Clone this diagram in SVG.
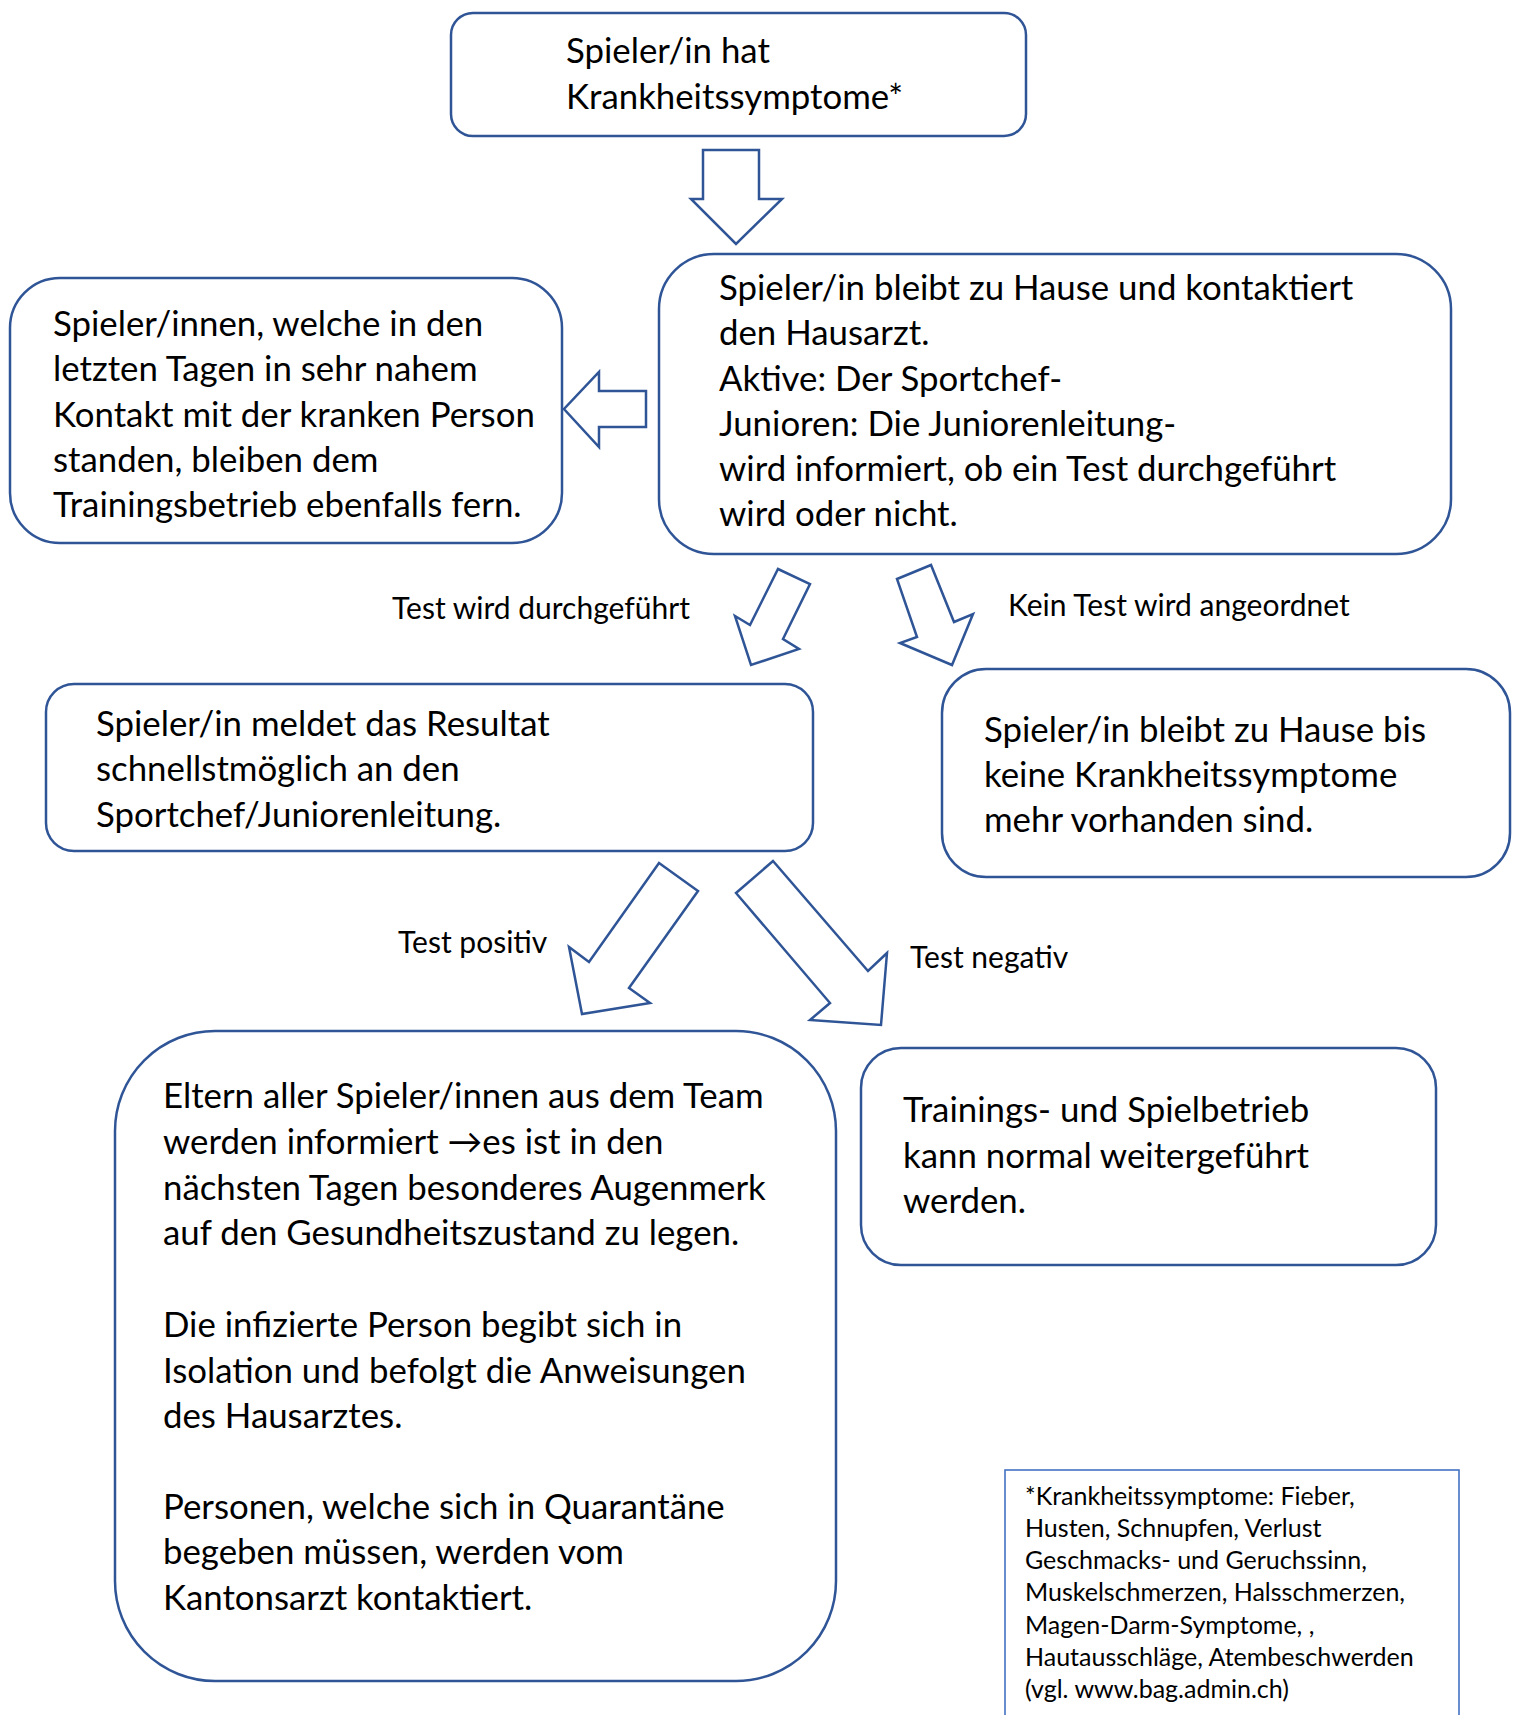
<svg xmlns="http://www.w3.org/2000/svg" width="1514" height="1715" viewBox="0 0 1514 1715">
<style>
.box{fill:#fff;stroke:#2F5597;stroke-width:2.5}
.fnbox{fill:#fff;stroke:#4472C4;stroke-width:1.6}
.arr{fill:#fff;stroke:#2F5597;stroke-width:2.5;stroke-linejoin:miter}
text{font-family:Lato,"Liberation Sans",sans-serif;fill:#000}
.t{font-size:34.8px}
.lbl{font-size:30px}
.fn{font-size:25px}
</style>
<rect width="1514" height="1715" fill="#fff"/>
<g id="connectors">
<polygon class="arr" points="703,150 759,150 759,199 782,199 736,244 691,199 703,199"/>
<polygon class="arr" points="646,391 646,427 599,427 599,447 564,409 599,372 599,391"/>
<polygon class="arr" points="778,569 810,584 783,639 799,649 751,665 735,616 750,625"/>
<polygon class="arr" points="897,579 931,565 954,622 973,614 952,665 900,643 917,637"/>
<polygon class="arr" points="659,863 698,891 629,988 650,1003 582,1014 569,947 589,962"/>
<polygon class="arr" points="736,893 773,861 868,971 887,953 881,1025 810,1020 830,1003"/>
<text class="lbl" x="392" y="619">Test wird durchgeführt</text>
<text class="lbl" x="1008" y="616">Kein Test wird angeordnet</text>
<text class="lbl" x="398" y="953">Test positiv</text>
<text class="lbl" x="910" y="968">Test negativ</text>
</g>
<g id="n1">
<rect class="box" x="451" y="13" width="575" height="123" rx="22"/>
<text class="t" x="566" y="63">Spieler/in hat</text>
<text class="t" x="566" y="109">Krankheitssymptome*</text>
</g>
<g id="n2">
<rect class="box" x="659" y="254" width="792" height="300" rx="55"/>
<text class="t" x="719" y="300">Spieler/in bleibt zu Hause und kontaktiert</text>
<text class="t" x="719" y="345">den Hausarzt.</text>
<text class="t" x="719" y="391">Aktive: Der Sportchef-</text>
<text class="t" x="719" y="436">Junioren: Die Juniorenleitung-</text>
<text class="t" x="719" y="481">wird informiert, ob ein Test durchgeführt</text>
<text class="t" x="719" y="526">wird oder nicht.</text>
</g>
<g id="n3">
<rect class="box" x="10" y="278" width="552" height="265" rx="50"/>
<text class="t" x="53" y="336">Spieler/innen, welche in den</text>
<text class="t" x="53" y="381">letzten Tagen in sehr nahem</text>
<text class="t" x="53" y="427">Kontakt mit der kranken Person</text>
<text class="t" x="53" y="472">standen, bleiben dem</text>
<text class="t" x="53" y="517">Trainingsbetrieb ebenfalls fern.</text>
</g>
<g id="n4">
<rect class="box" x="46" y="684" width="767" height="167" rx="28"/>
<text class="t" x="96" y="736">Spieler/in meldet das Resultat</text>
<text class="t" x="96" y="781">schnellstmöglich an den</text>
<text class="t" x="96" y="827">Sportchef/Juniorenleitung.</text>
</g>
<g id="n5">
<rect class="box" x="942" y="669" width="568" height="208" rx="44"/>
<text class="t" x="984" y="742">Spieler/in bleibt zu Hause bis</text>
<text class="t" x="984" y="787">keine Krankheitssymptome</text>
<text class="t" x="984" y="832">mehr vorhanden sind.</text>
</g>
<g id="n6">
<rect class="box" x="115" y="1031" width="721" height="650" rx="100"/>
<text class="t" x="163" y="1108">Eltern aller Spieler/innen aus dem Team</text>
<text class="t" x="163" y="1154">werden informiert →es ist in den</text>
<text class="t" x="163" y="1200">nächsten Tagen besonderes Augenmerk</text>
<text class="t" x="163" y="1245">auf den Gesundheitszustand zu legen.</text>
<text class="t" x="163" y="1337">Die infizierte Person begibt sich in</text>
<text class="t" x="163" y="1383">Isolation und befolgt die Anweisungen</text>
<text class="t" x="163" y="1428">des Hausarztes.</text>
<text class="t" x="163" y="1519">Personen, welche sich in Quarantäne</text>
<text class="t" x="163" y="1564">begeben müssen, werden vom</text>
<text class="t" x="163" y="1610">Kantonsarzt kontaktiert.</text>
</g>
<g id="n7">
<rect class="box" x="861" y="1048" width="575" height="217" rx="40"/>
<text class="t" x="903" y="1122">Trainings- und Spielbetrieb</text>
<text class="t" x="903" y="1168">kann normal weitergeführt</text>
<text class="t" x="903" y="1213">werden.</text>
</g>
<g id="n8">
<rect class="fnbox" x="1005" y="1470" width="454" height="270"/>
<text class="fn" x="1025" y="1505">*Krankheitssymptome: Fieber,</text>
<text class="fn" x="1025" y="1537">Husten, Schnupfen, Verlust</text>
<text class="fn" x="1025" y="1569">Geschmacks- und Geruchssinn,</text>
<text class="fn" x="1025" y="1601">Muskelschmerzen, Halsschmerzen,</text>
<text class="fn" x="1025" y="1634">Magen-Darm-Symptome, ,</text>
<text class="fn" x="1025" y="1666">Hautausschläge, Atembeschwerden</text>
<text class="fn" x="1025" y="1698">(vgl. www.bag.admin.ch)</text>
</g>
</svg>
